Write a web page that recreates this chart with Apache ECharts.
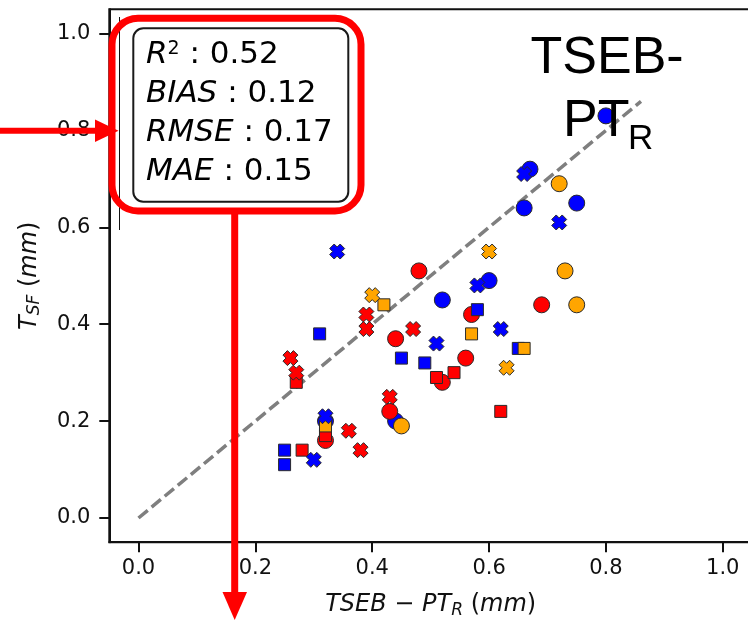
<!DOCTYPE html>
<html><head><meta charset="utf-8">
<script src="https://cdn.jsdelivr.net/npm/echarts@6/dist/echarts.min.js"></script>
<style>html,body{margin:0;padding:0;background:#fff}#c{width:748px;height:620px}</style>
</head><body><div id="c"></div><script>
// ---- data ----
const xTicks = [0.0, 0.2, 0.4, 0.6, 0.8, 1.0];
const yTicks = [0.0, 0.2, 0.4, 0.6, 0.8, 1.0];
const refLine = [[0, 0], [0.86, 0.86]];

const blueCircles = [[0.80,0.83],[0.67,0.72],[0.66,0.64],[0.75,0.65],[0.60,0.49],[0.52,0.45],[0.32,0.20],[0.44,0.20]];
const redCircles = [[0.48,0.51],[0.57,0.42],[0.44,0.37],[0.56,0.33],[0.52,0.28],[0.43,0.22],[0.32,0.16],[0.69,0.44]];
const orangeCircles = [[0.72,0.69],[0.73,0.51],[0.75,0.44],[0.45,0.19]];

const blueSquares = [[0.31,0.38],[0.58,0.43],[0.45,0.33],[0.49,0.32],[0.65,0.35],[0.25,0.14],[0.25,0.11]];
const redSquares = [[0.27,0.28],[0.51,0.29],[0.54,0.30],[0.62,0.22],[0.28,0.14],[0.32,0.17]];
const orangeSquares = [[0.42,0.44],[0.57,0.38],[0.66,0.35],[0.32,0.19]];

const blueCrosses = [[0.34,0.55],[0.66,0.71],[0.72,0.61],[0.58,0.48],[0.51,0.36],[0.62,0.39],[0.32,0.21],[0.30,0.12]];
const redCrosses = [[0.39,0.42],[0.39,0.39],[0.47,0.39],[0.26,0.33],[0.27,0.30],[0.43,0.25],[0.36,0.18],[0.38,0.14]];
const orangeCrosses = [[0.60,0.55],[0.40,0.46],[0.63,0.31]];

const statLabels = ['R', 'BIAS', 'RMSE', 'MAE'];
const statValues = ['0.52', '0.12', '0.17', '0.15'];

// ---- styling ----
const BLUE = '#0000ff', RED = '#ff0000', ORANGE = '#ffa500', EDGE = '#2a2a2a';
const XPATH = 'path://M70,0L100,30L80,50L100,70L70,100L50,80L30,100L0,70L20,50L0,30L30,0L50,20Z';

function sc(data, color, symbol, size) {
  return {
    type: 'scatter', data: data, symbol: symbol, symbolSize: size, z: 3,
    itemStyle: { color: color, borderColor: EDGE, borderWidth: 1, opacity: 1 },
    emphasis: { disabled: true }, silent: true
  };
}

const F = 'DejaVu Sans';
const axisRich = {
  i: { fontFamily: F, fontStyle: 'italic', fontSize: 24, lineHeight: 28, color: '#111' },
  n: { fontFamily: F, fontSize: 24, lineHeight: 28, color: '#111' },
  sub: { fontFamily: F, fontStyle: 'italic', fontSize: 17, lineHeight: 13, verticalAlign: 'bottom', color: '#111' }
};

const boxRich = {
  i: { fontFamily: F, fontStyle: 'italic', fontSize: 31, lineHeight: 31, color: '#111' },
  n: { fontFamily: F, fontSize: 31, lineHeight: 31, color: '#111' },
  sup: { fontFamily: F, fontSize: 19, lineHeight: 18, verticalAlign: 'top', color: '#111' }
};
const lineMids = [55, 94.3, 133.3, 172];
const statTexts = statLabels.map((l, k) =>
  (k === 0 ? '{i|R}{sup|2}{n| : ' : '{i|' + l + '}{n| : ') + statValues[k] + '}');

const chart = echarts.init(document.getElementById('c'), null, { renderer: 'canvas' });
const option = {
  animation: false,
  backgroundColor: '#fff',
  grid: { left: 109.3, top: 9.3, right: -4, bottom: 77.8, containLabel: false, outerBoundsMode: 'none',
          show: true, borderColor: '#111', borderWidth: 2, backgroundColor: 'transparent' },
  xAxis: {
    type: 'value', min: -0.05, max: 1.05,
    splitLine: { show: false },
    axisLine: { show: true, onZero: false, lineStyle: { color: '#111', width: 2 } },
    axisTick: { show: true, customValues: xTicks, length: 10, lineStyle: { color: '#111', width: 2 } },
    axisLabel: { customValues: xTicks, formatter: v => v.toFixed(1), fontFamily: F, fontSize: 21, color: '#111', margin: 16 },
    name: '{i|TSEB}{n| − }{i|PT}{sub|R}{n| (}{i|mm}{n|)}',
    nameLocation: 'middle', nameGap: 49,
    nameTextStyle: { fontFamily: F, fontSize: 24, color: '#111', rich: axisRich }
  },
  yAxis: {
    type: 'value', min: -0.05, max: 1.05,
    splitLine: { show: false },
    axisLine: { show: true, onZero: false, lineStyle: { color: '#111', width: 2 } },
    axisTick: { show: true, customValues: yTicks, length: 10, lineStyle: { color: '#111', width: 2 } },
    axisLabel: { customValues: yTicks, formatter: v => v.toFixed(1), fontFamily: F, fontSize: 21, color: '#111', margin: 19 },
    name: '{i|T}{sub|SF}{n| (}{i|mm}{n|)}',
    nameLocation: 'middle', nameGap: 66, nameRotate: 90,
    nameTextStyle: { fontFamily: F, fontSize: 24, color: '#111', rich: axisRich }
  },
  series: [
    { type: 'line', data: refLine, showSymbol: false, symbol: 'none', z: 2, silent: true,
      lineStyle: { color: '#7f7f7f', width: 3.5, type: [12, 5] } },
    sc(blueCircles, BLUE, 'circle', 16),
    sc(redCircles, RED, 'circle', 16),
    sc(orangeCircles, ORANGE, 'circle', 16),
    sc(blueSquares, BLUE, 'rect', 12),
    sc(redSquares, RED, 'rect', 12),
    sc(orangeSquares, ORANGE, 'rect', 12),
    sc(blueCrosses, BLUE, XPATH, 15),
    sc(redCrosses, RED, XPATH, 15),
    sc(orangeCrosses, ORANGE, XPATH, 15)
  ],
  graphic: { elements: [
    { type: 'line', z: 100, shape: { x1: 119.5, y1: 17, x2: 119.5, y2: 230 }, style: { stroke: '#111', lineWidth: 1 } },
    { type: 'rect', z: 100, shape: { x: 133.3, y: 28.3, width: 215, height: 173.4, r: 10 }, style: { fill: '#fff', stroke: '#1a1a1a', lineWidth: 2 } },
    ...statTexts.map((t, k) => ({ type: 'text', z: 101, x: 146, y: lineMids[k],
      style: { text: t, rich: boxRich, align: 'left', verticalAlign: 'middle', fontFamily: F, fontSize: 31 } })),
    { type: 'rect', z: 102, shape: { x: 112, y: 18.3, width: 249, height: 192.7, r: 26 }, style: { fill: 'none', stroke: RED, lineWidth: 7 } },
    { type: 'line', z: 102, shape: { x1: 0, y1: 130.7, x2: 98, y2: 130.7 }, style: { stroke: RED, lineWidth: 6 } },
    { type: 'polygon', z: 102, shape: { points: [[95, 119.5], [118.5, 130.7], [95, 142]] }, style: { fill: RED } },
    { type: 'line', z: 102, shape: { x1: 234.7, y1: 211, x2: 234.7, y2: 596 }, style: { stroke: RED, lineWidth: 7 } },
    { type: 'polygon', z: 102, shape: { points: [[222.5, 592], [247, 592], [234.7, 620]] }, style: { fill: RED } },
    { type: 'text', z: 103, x: 530.5, y: 59, style: { text: 'TSEB-', fontFamily: 'Liberation Sans', fontSize: 52, fill: '#000', align: 'left', verticalAlign: 'middle' } },
    { type: 'text', z: 103, x: 563, y: 122, style: { text: 'PT', fontFamily: 'Liberation Sans', fontSize: 52, fill: '#000', align: 'left', verticalAlign: 'middle' } },
    { type: 'text', z: 103, x: 628, y: 139.6, style: { text: 'R', fontFamily: 'Liberation Sans', fontSize: 35, fill: '#000', align: 'left', verticalAlign: 'middle' } }
  ] }
};
chart.setOption(option);
</script></body></html>
